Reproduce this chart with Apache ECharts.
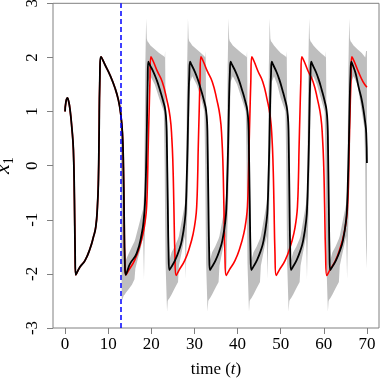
<!DOCTYPE html>
<html>
<head>
<meta charset="utf-8">
<script src="https://cdn.jsdelivr.net/npm/echarts@6/dist/echarts.min.js"></script>
<style>
html,body{margin:0;padding:0;background:#fff;}
#chart{width:382px;height:382px;}
</style>
</head>
<body>
<div id="chart"></div>
<script>
// ---- data ----
const xTicks = [0, 10, 20, 30, 40, 50, 60, 70];
const yTicks = [-3, -2, -1, 0, 1, 2, 3];
const blueLineT = 12.9;

// shared part (black and red coincide until ~14)
const timeCommon = [0, 0.2, 0.55, 0.85, 1.16, 1.55, 1.93, 2.17, 2.32, 2.47, 3.48, 4.64, 5.8, 6.57, 7.12, 7.5, 7.73, 7.89, 8.04, 8.35, 9.28, 10.44, 11.6, 12.37, 12.9, 13.3, 13.53, 13.7, 13.85, 14.08];
const x1Common = [1.0, 1.18, 1.25, 1.18, 1.03, 0.72, 0.29, -0.63, -1.56, -2.02, -1.87, -1.75, -1.53, -1.32, -1.13, -0.76, -0.27, 0.6, 1.52, 2.01, 1.86, 1.67, 1.43, 1.21, 0.96, 0.6, -0.02, -0.95, -1.75, -2.02];

// red curve after t = 14.08
const timeRed = [
  14.78, 16.12, 17.28, 18.10, 18.62, 18.91, 19.14, 19.26, 19.49, 19.67, 19.9,
  20.49, 21.36, 22.53, 23.59, 24.35, 24.76, 25.02, 25.22, 25.46, 25.75,
  26.44, 27.76, 28.91, 29.72, 30.24, 30.52, 30.75, 30.87, 31.10, 31.27, 31.5,
  32.09, 32.96, 34.13, 35.19, 35.95, 36.36, 36.62, 36.82, 37.06, 37.35,
  38.06, 39.43, 40.62, 41.46, 41.99, 42.29, 42.53, 42.65, 42.88, 43.06, 43.3,
  43.87, 44.71, 45.84, 46.86, 47.59, 47.99, 48.24, 48.44, 48.67, 48.95,
  49.66, 51.03, 52.22, 53.06, 53.59, 53.89, 54.13, 54.25, 54.48, 54.66, 54.9,
  55.48, 56.35, 57.51, 58.55, 59.31, 59.71, 59.98, 60.18, 60.41, 60.7,
  61.40, 62.73, 63.89, 64.70, 65.22, 65.51, 65.75, 65.86, 66.09, 66.27, 66.5,
  67.08, 67.95, 69.11, 70.0
];
const x1Red = [
  -1.93, -1.75, -1.5, -1.25, -1.0, -0.76, -0.2, 0.29, 1.0, 1.52, 2.01,
  1.92, 1.75, 1.55, 1.22, 0.9, 0.5, 0.0, -0.7, -1.6, -2.03,
  -1.93, -1.75, -1.5, -1.25, -1.0, -0.76, -0.2, 0.29, 1.0, 1.52, 2.01,
  1.92, 1.75, 1.55, 1.22, 0.9, 0.5, 0.0, -0.7, -1.6, -2.03,
  -1.93, -1.75, -1.5, -1.25, -1.0, -0.76, -0.2, 0.29, 1.0, 1.52, 2.01,
  1.92, 1.75, 1.55, 1.22, 0.9, 0.5, 0.0, -0.7, -1.6, -2.03,
  -1.93, -1.75, -1.5, -1.25, -1.0, -0.76, -0.2, 0.29, 1.0, 1.52, 2.01,
  1.92, 1.75, 1.55, 1.22, 0.9, 0.5, 0.0, -0.7, -1.6, -2.03,
  -1.93, -1.75, -1.5, -1.25, -1.0, -0.76, -0.2, 0.29, 1.0, 1.52, 2.01,
  1.92, 1.75, 1.55, 1.45
];

// black curve after t = 14.08
const timeBlack = [
  14.5, 15.08, 16.6, 17.8, 18.3, 18.56, 18.8, 18.95, 19.15, 19.3,
  19.59, 20.5, 21.26, 22.0, 22.73, 23.22, 23.51, 23.61, 23.81, 24.0, 24.2,
  24.58, 25.5, 26.36, 27.08, 27.8, 28.04, 28.18, 28.42, 28.62, 28.81, 29.0,
  29.28, 30.13, 30.84, 31.53, 32.22, 32.68, 32.96, 33.05, 33.23, 33.42, 33.6,
  33.98, 34.9, 35.76, 36.48, 37.2, 37.44, 37.58, 37.82, 38.02, 38.21, 38.4,
  38.69, 39.58, 40.32, 41.04, 41.76, 42.24, 42.53, 42.62, 42.82, 43.01, 43.2,
  43.58, 44.48, 45.34, 46.05, 46.76, 47.0, 47.14, 47.38, 47.57, 47.76, 47.95,
  48.22, 49.04, 49.73, 50.4, 51.07, 51.51, 51.78, 51.87, 52.04, 52.22, 52.4,
  52.78, 53.67, 54.52, 55.22, 55.93, 56.16, 56.3, 56.54, 56.72, 56.91, 57.1,
  57.36, 58.18, 58.86, 59.52, 60.18, 60.62, 60.88, 60.97, 61.15, 61.32, 61.5,
  61.89, 62.82, 63.7, 64.44, 65.18, 65.42, 65.57, 65.81, 66.01, 66.2, 66.4,
  66.7, 67.4, 68.05, 68.7, 69.2, 69.6, 69.84, 70.0
];
const x1Black = [
  -1.93, -1.81, -1.62, -1.25, -0.95, -0.64, 0.0, 0.6, 1.52, 1.92,
  1.87, 1.73, 1.58, 1.40, 1.2, 1.03, 0.75, 0.4, -0.64, -1.6, -1.93,
  -1.88, -1.75, -1.58, -1.38, -1.0, -0.7, -0.33, 0.4, 1.2, 1.7, 1.92,
  1.87, 1.73, 1.58, 1.40, 1.2, 1.03, 0.75, 0.4, -0.64, -1.6, -1.93,
  -1.88, -1.75, -1.58, -1.38, -1.0, -0.7, -0.33, 0.4, 1.2, 1.7, 1.92,
  1.87, 1.73, 1.58, 1.40, 1.2, 1.03, 0.75, 0.4, -0.64, -1.6, -1.93,
  -1.88, -1.75, -1.58, -1.38, -1.0, -0.7, -0.33, 0.4, 1.2, 1.7, 1.92,
  1.87, 1.73, 1.58, 1.40, 1.2, 1.03, 0.75, 0.4, -0.64, -1.6, -1.93,
  -1.88, -1.75, -1.58, -1.38, -1.0, -0.7, -0.33, 0.4, 1.2, 1.7, 1.92,
  1.87, 1.73, 1.58, 1.40, 1.2, 1.03, 0.75, 0.4, -0.64, -1.6, -1.93,
  -1.88, -1.75, -1.58, -1.38, -1.0, -0.7, -0.33, 0.4, 1.2, 1.7, 1.92,
  1.86, 1.7, 1.46, 1.25, 1.03, 0.8, 0.6, 0.05
];

// grey uncertainty band (lower / upper envelope)
const bandTime = [
  12.9, 13.0, 13.15, 13.4, 13.6, 13.85, 14.08, 14.6, 15.5, 16.1, 16.3, 17.6, 18.1,
  18.3, 18.4, 18.6, 18.8, 18.95, 19.1, 19.3, 19.8, 20.8, 21.8,
  22.9, 23.1, 23.2, 23.3, 23.65, 23.8, 24.0, 24.2, 24.7, 25.4, 26.2, 26.4,
  27.8, 28.0, 28.1, 28.3, 28.5, 28.65, 28.8, 29.0, 29.5, 30.5, 31.5,
  32.3, 32.5, 32.6, 32.7, 33.05, 33.2, 33.4, 33.6, 34.1, 34.8, 35.6, 35.8,
  37.2, 37.4, 37.5, 37.7, 37.9, 38.05, 38.2, 38.4, 38.9, 39.9, 40.9,
  41.9, 42.1, 42.2, 42.3, 42.65, 42.8, 43.0, 43.2, 43.7, 44.4, 45.2, 45.4,
  46.75, 46.95, 47.05, 47.25, 47.45, 47.6, 47.75, 47.95, 48.45, 49.2, 50.0,
  51.1, 51.3, 51.4, 51.5, 51.85, 52.0, 52.2, 52.4, 52.9, 53.6, 54.4, 54.6,
  55.9, 56.1, 56.2, 56.4, 56.6, 56.75, 56.9, 57.1, 57.6, 58.4, 59.3,
  60.2, 60.4, 60.5, 60.6, 60.95, 61.1, 61.3, 61.5, 62.0, 62.7, 63.5, 63.7,
  65.2, 65.4, 65.5, 65.7, 65.9, 66.05, 66.2, 66.4, 66.9, 67.8, 68.8,
  69.4, 69.6, 69.7, 69.8, 70.0
];
const bandLower = [
  0.9, -0.8, -2.5, -2.45, -2.4, -2.38, -2.35, -2.3, -2.2, -2.1, -1.9, -1.5, -1.3,
  -2.1, -1.6, -1.0, -0.4, 0.1, 0.8, 1.55, 1.65, 1.5, 1.25,
  1.0, 0.0, -1.0, -1.8, -2.7, -2.5, -2.47, -2.45, -2.38, -2.27, -2.15, -1.85,
  -1.3, -2.1, -1.6, -1.0, -0.4, 0.1, 0.8, 1.55, 1.65, 1.5, 1.25,
  1.0, 0.0, -1.0, -1.8, -2.7, -2.5, -2.47, -2.45, -2.38, -2.27, -2.15, -1.85,
  -1.3, -2.1, -1.6, -1.0, -0.4, 0.1, 0.8, 1.55, 1.65, 1.5, 1.25,
  1.0, 0.0, -1.0, -1.8, -2.7, -2.5, -2.47, -2.45, -2.38, -2.27, -2.15, -1.85,
  -1.3, -2.1, -1.6, -1.0, -0.4, 0.1, 0.8, 1.55, 1.65, 1.5, 1.25,
  1.0, 0.0, -1.0, -1.8, -2.7, -2.5, -2.47, -2.45, -2.38, -2.27, -2.15, -1.85,
  -1.3, -2.1, -1.6, -1.0, -0.4, 0.1, 0.8, 1.55, 1.65, 1.5, 1.25,
  1.0, 0.0, -1.0, -1.8, -2.7, -2.5, -2.47, -2.45, -2.38, -2.27, -2.15, -1.85,
  -1.3, -2.1, -1.6, -1.0, -0.4, 0.1, 0.8, 1.55, 1.65, 1.5, 1.0,
  0.7, 0.0, -1.0, -1.5, -1.9
];
const bandUpper = [
  1.27, 1.2, 0.9, 0.4, 0.0, -1.45, -1.75, -1.65, -1.5, -1.4, -1.35, -0.95, -0.8,
  -0.55, 0.0, 1.8, 2.72, 2.35, 2.3, 2.28, 2.22, 2.15, 2.08,
  2.02, 2.0, 2.12, 1.15, 0.85, 0.3, -1.2, -1.75, -1.6, -1.5, -1.35, -1.3,
  -0.7, -0.45, 0.0, 1.8, 2.72, 2.35, 2.3, 2.28, 2.22, 2.15, 2.08,
  2.02, 2.0, 2.12, 1.15, 0.85, 0.3, -1.2, -1.75, -1.6, -1.5, -1.35, -1.3,
  -0.7, -0.45, 0.0, 1.8, 2.72, 2.35, 2.3, 2.28, 2.22, 2.15, 2.08,
  2.02, 2.0, 2.12, 1.15, 0.85, 0.3, -1.2, -1.75, -1.6, -1.5, -1.35, -1.3,
  -0.7, -0.45, 0.0, 1.8, 2.72, 2.35, 2.3, 2.28, 2.22, 2.15, 2.08,
  2.02, 2.0, 2.12, 1.15, 0.85, 0.3, -1.2, -1.75, -1.6, -1.5, -1.35, -1.3,
  -0.7, -0.45, 0.0, 1.8, 2.72, 2.35, 2.3, 2.28, 2.22, 2.15, 2.08,
  2.02, 2.0, 2.12, 1.15, 0.85, 0.3, -1.2, -1.75, -1.6, -1.5, -1.35, -1.3,
  -0.7, -0.45, 0.0, 1.8, 2.72, 2.35, 2.3, 2.28, 2.22, 2.15, 2.08,
  2.02, 2.0, 2.05, 2.12, 2.12
];

// ---- build series data ----
const zip = (ts, vs) => ts.map((t, i) => [t, vs[i]]);
const redData = zip(timeCommon, x1Common).concat(zip(timeRed, x1Red));
const blackData = zip(timeCommon, x1Common).concat(zip(timeBlack, x1Black));
const bandData = bandTime.map((t, i) => [t, bandLower[i], bandUpper[i]]);

const FONT = 'Liberation Serif';
const chart = echarts.init(document.getElementById('chart'), null, {renderer: 'canvas'});
chart.setOption({
  animation: false,
  backgroundColor: '#ffffff',
  grid: {left: 53, right: 3, top: 3.3, bottom: 54, show: true, borderColor: '#808080', borderWidth: 1, containLabel: false, outerBoundsMode: 'none'},
  xAxis: {
    type: 'value', min: -2.8, max: 72.8, position: 'bottom',
    axisLine: {show: false, onZero: false},
    splitLine: {show: false},
    axisTick: {show: true, length: 6, lineStyle: {color: '#808080'}, customValues: xTicks},
    axisLabel: {customValues: xTicks, color: '#000', fontFamily: FONT, fontSize: 17, margin: 8},
    name: '{a|time (}{b|t}{a|)}',
    nameLocation: 'middle', nameGap: 33,
    nameTextStyle: {rich: {
      a: {fontFamily: FONT, fontSize: 17, color: '#000'},
      b: {fontFamily: FONT, fontSize: 17, fontStyle: 'italic', color: '#000'}
    }}
  },
  yAxis: {
    type: 'value', min: -3, max: 3, interval: 1, position: 'left',
    axisLine: {show: false, onZero: false},
    splitLine: {show: false},
    axisTick: {show: true, length: 6, lineStyle: {color: '#808080'}},
    axisLabel: {color: '#000', fontFamily: FONT, fontSize: 17, rotate: 90, margin: 12,
      formatter: v => (yTicks.indexOf(v) >= 0 ? String(v) : '')},
    name: '{x|x}{s|1}',
    nameLocation: 'middle', nameGap: 33, nameRotate: 90,
    nameTextStyle: {rich: {
      x: {fontFamily: FONT, fontSize: 22, fontStyle: 'italic', color: '#000', lineHeight: 26, verticalAlign: 'middle'},
      s: {fontFamily: FONT, fontSize: 14, color: '#000', lineHeight: 26, verticalAlign: 'bottom'}
    }}
  },
  series: [
    {
      type: 'custom', silent: true, z: 1, clip: true,
      data: bandData,
      encode: {x: 0, y: [1, 2]},
      renderItem: function (params, api) {
        if (params.dataIndex !== 0) return null;
        const pts = [];
        for (let i = 0; i < bandTime.length; i++) pts.push(api.coord([bandTime[i], bandUpper[i]]));
        for (let i = bandTime.length - 1; i >= 0; i--) pts.push(api.coord([bandTime[i], bandLower[i]]));
        return {type: 'polygon', shape: {points: pts}, style: {fill: '#bebebe', stroke: null}};
      }
    },
    {
      type: 'line', name: 'red', z: 2, data: redData, showSymbol: false, symbol: 'none',
      smooth: 0.5,
      lineStyle: {color: '#ff0000', width: 1.6}
    },
    {
      type: 'line', name: 'black', z: 3, data: blackData, showSymbol: false, symbol: 'none',
      smooth: 0.5,
      lineStyle: {color: '#000000', width: 1.8}
    },
    {
      type: 'line', z: 5, data: [], silent: true,
      markLine: {
        silent: true, symbol: 'none', label: {show: false},
        lineStyle: {color: '#0000ff', width: 1.5, type: [5, 3]},
        data: [{xAxis: blueLineT}]
      }
    }
  ]
});
</script>
</body>
</html>
